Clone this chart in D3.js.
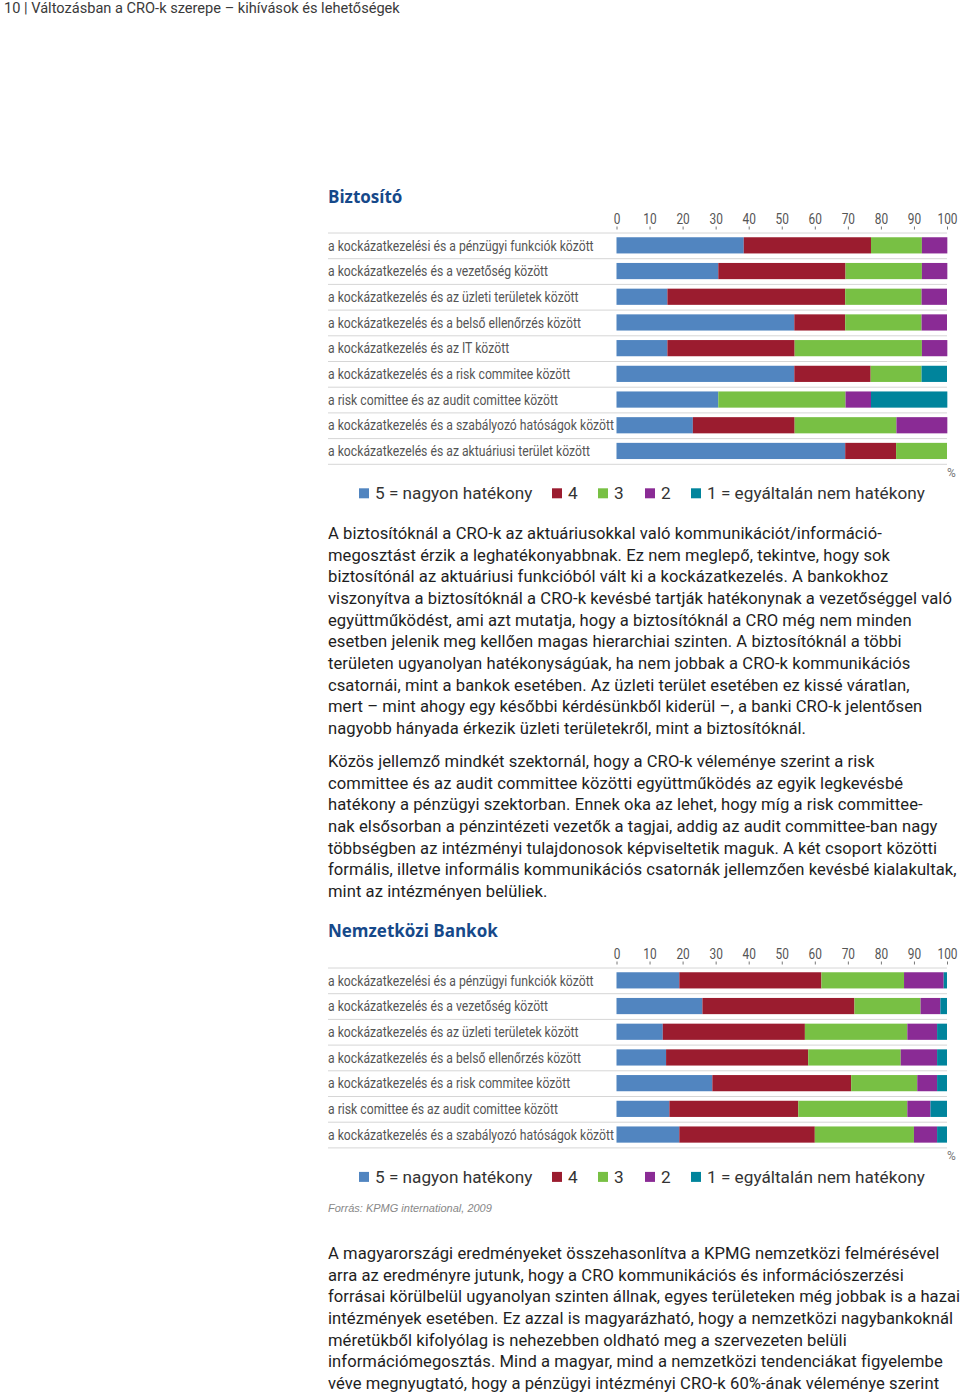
<!DOCTYPE html>
<html><head><meta charset="utf-8">
<script src="https://cdn.jsdelivr.net/npm/d3@7"></script>
<style>
body{margin:0;background:#fff;}
svg{display:block;}
</style></head>
<body>
<svg id="page" width="960" height="1395"></svg>
<script>
// ---------- DATA ----------
const seriesNames = ["5 = nagyon hatékony", "4", "3", "2", "1 = egyáltalán nem hatékony"];
const seriesColors = ["#5185c0", "#9b1c2f", "#78c044", "#8a2b95", "#00849c"];
const axisTicks = [0, 10, 20, 30, 40, 50, 60, 70, 80, 90, 100];

const insCategories = [
  "a kockázatkezelési és a pénzügyi funkciók között",
  "a kockázatkezelés és a vezetőség között",
  "a kockázatkezelés és az üzleti területek között",
  "a kockázatkezelés és a belső ellenőrzés között",
  "a kockázatkezelés és az IT között",
  "a kockázatkezelés és a risk commitee között",
  "a risk comittee és az audit comittee között",
  "a kockázatkezelés és a szabályozó hatóságok között",
  "a kockázatkezelés és az aktuáriusi terület között"
];
const ins5 = [38.5, 30.8, 15.4, 53.8, 15.4, 53.8, 30.8, 23.1, 69.2];
const ins4 = [38.5, 38.5, 53.8, 15.4, 38.5, 23.1, 0, 30.8, 15.4];
const ins3 = [15.4, 23.1, 23.1, 23.1, 38.5, 15.4, 38.5, 30.8, 15.4];
const ins2 = [7.7, 7.7, 7.7, 7.7, 7.7, 0, 7.7, 15.4, 0];
const ins1 = [0, 0, 0, 0, 0, 7.7, 23.1, 0, 0];

const bankCategories = [
  "a kockázatkezelési és a pénzügyi funkciók között",
  "a kockázatkezelés és a vezetőség között",
  "a kockázatkezelés és az üzleti területek között",
  "a kockázatkezelés és a belső ellenőrzés között",
  "a kockázatkezelés és a risk commitee között",
  "a risk comittee és az audit comittee között",
  "a kockázatkezelés és a szabályozó hatóságok között"
];
const bank5 = [19, 26, 14, 15, 29, 16, 19];
const bank4 = [43, 46, 43, 43, 42, 39, 41];
const bank3 = [25, 20, 31, 28, 20, 33, 30];
const bank2 = [12, 6, 9, 11, 6, 7, 7];
const bank1 = [1, 2, 3, 3, 3, 5, 3];

const headerText = "10 | Változásban a CRO-k szerepe – kihívások és lehetőségek";
const para1 = [
  "A biztosítóknál a CRO-k az aktuáriusokkal való kommunikációt/információ-",
  "megosztást érzik a leghatékonyabbnak. Ez nem meglepő, tekintve, hogy sok",
  "biztosítónál az aktuáriusi funkcióból vált ki a kockázatkezelés. A bankokhoz",
  "viszonyítva a biztosítóknál a CRO-k kevésbé tartják hatékonynak a vezetőséggel való",
  "együttműködést, ami azt mutatja, hogy a biztosítóknál a CRO még nem minden",
  "esetben jelenik meg kellően magas hierarchiai szinten. A biztosítóknál a többi",
  "területen ugyanolyan hatékonyságúak, ha nem jobbak a CRO-k kommunikációs",
  "csatornái, mint a bankok esetében. Az üzleti terület esetében ez kissé váratlan,",
  "mert – mint ahogy egy későbbi kérdésünkből kiderül –, a banki CRO-k jelentősen",
  "nagyobb hányada érkezik üzleti területekről, mint a biztosítóknál."
];
const para2 = [
  "Közös jellemző mindkét szektornál, hogy a CRO-k véleménye szerint a risk",
  "committee és az audit committee közötti együttműködés az egyik legkevésbé",
  "hatékony a pénzügyi szektorban. Ennek oka az lehet, hogy míg a risk committee-",
  "nak elsősorban a pénzintézeti vezetők a tagjai, addig az audit committee-ban nagy",
  "többségben az intézményi tulajdonosok képviseltetik maguk. A két csoport közötti",
  "formális, illetve informális kommunikációs csatornák jellemzően kevésbé kialakultak,",
  "mint az intézményen belüliek."
];
const para3 = [
  "A magyarországi eredményeket összehasonlítva a KPMG nemzetközi felmérésével",
  "arra az eredményre jutunk, hogy a CRO kommunikációs és információszerzési",
  "forrásai körülbelül ugyanolyan szinten állnak, egyes területeken még jobbak is a hazai",
  "intézmények esetében. Ez azzal is magyarázható, hogy a nemzetközi nagybankoknál",
  "méretükből kifolyólag is nehezebben oldható meg a szervezeten belüli",
  "információmegosztás. Mind a magyar, mind a nemzetközi tendenciákat figyelembe",
  "véve megnyugtató, hogy a pénzügyi intézményi CRO-k 60%-ának véleménye szerint"
];
const sourceText = "Forrás: KPMG international, 2009";

// ---------- DRAW ----------
const svg = d3.select("#page");
const labelFont = "Roboto, 'DejaVu Sans', sans-serif";
const bodyFont = "Roboto, 'Liberation Sans', sans-serif";

svg.append("text").attr("x", 4).attr("y", 13)
  .attr("font-family", bodyFont).attr("font-size", 14.6).attr("fill", "#3a3a3a")
  .text(headerText);

// horizontally condense a selection so that a reference text gets a target width
function condense(sel, refNode, targetW, x0) {
  const w = refNode.getComputedTextLength();
  const k = targetW / w;
  sel.attr("transform", `translate(${x0},0) scale(${k},1) translate(${-x0},0)`);
}

function paragraph(lines, x, y0, lh) {
  const g = svg.append("g").attr("font-family", bodyFont).attr("font-size", 16.6)
    .attr("fill", "#1e1e1e").attr("letter-spacing", 0.06);
  g.selectAll("text").data(lines).join("text")
    .attr("x", x).attr("y", (d, i) => y0 + i * lh).text(d => d);
  return g;
}

function chart(opts) {
  const {title, titleY, cats, vals, top, rowH} = opts;
  const x = d3.scaleLinear().domain([0, 100]).range([616.5, 947]);
  const y = d3.scaleBand().domain(cats).range([top, top + rowH * cats.length]).paddingInner(0.37).paddingOuter(0.185);
  const g = svg.append("g");

  g.append("text").attr("x", 328).attr("y", titleY)
    .attr("font-family", "'Open Sans', Roboto, sans-serif").attr("font-weight", 700)
    .attr("font-size", 17).attr("fill", "#16498a").text(title);

  // axis
  const axis = d3.axisTop(x).tickValues(axisTicks).tickSize(3).tickPadding(3).tickFormat(d3.format("d"));
  const ag = g.append("g").attr("transform", `translate(0,${top - 3})`).call(axis);
  ag.select(".domain").remove();
  ag.selectAll(".tick line").attr("stroke", "#777");
  ag.selectAll(".tick text").attr("font-family", labelFont).attr("font-size", 14.5).attr("fill", "#555")
    .attr("transform", "scale(0.82,1)");

  // separators
  const seps = d3.range(cats.length + 1);
  g.selectAll("line.sep").data(seps).join("line").attr("class", "sep")
    .attr("x1", 328).attr("x2", 947)
    .attr("y1", i => top + i * rowH + 0.5).attr("y2", i => top + i * rowH + 0.5)
    .attr("stroke", "#d6d6d6").attr("stroke-width", 1);

  // labels
  const lg0 = g.append("g");
  const labs = lg0.selectAll("text.lab").data(cats).join("text").attr("class", "lab")
    .attr("x", 328).attr("y", d => y(d) + y.bandwidth() / 2).attr("dy", "0.36em")
    .attr("font-family", labelFont).attr("font-size", 14.5).attr("fill", "#555")
    .text(d => d);
  condense(lg0, labs.nodes()[0], 266, 328);

  // stacked bars
  const rows = cats.map((c, i) => {
    const o = {cat: c};
    seriesNames.forEach((s, k) => o[s] = vals[k][i]);
    return o;
  });
  const stack = d3.stack().keys(seriesNames)(rows);
  g.selectAll("g.ser").data(stack).join("g").attr("class", "ser")
    .attr("fill", (d, k) => seriesColors[k])
    .selectAll("rect").data(d => d).join("rect")
    .attr("x", d => x(d[0])).attr("width", d => Math.max(0, x(d[1]) - x(d[0])))
    .attr("y", d => y(d.data.cat)).attr("height", y.bandwidth());

  // % sign
  const bottom = top + rowH * cats.length;
  g.append("text").attr("x", 947).attr("y", bottom + 13)
    .attr("font-family", labelFont).attr("font-size", 12).attr("fill", "#777").text("%");

  // legend
  const legY = bottom + 29.5;
  const legX = [359, 552, 598, 645, 691];
  const lg = g.append("g").attr("font-family", bodyFont).attr("font-size", 17.2).attr("fill", "#333");
  seriesNames.forEach((s, k) => {
    lg.append("rect").attr("x", legX[k]).attr("y", legY - 5).attr("width", 10).attr("height", 10).attr("fill", seriesColors[k]);
    lg.append("text").attr("x", legX[k] + 16).attr("y", legY).attr("dy", "0.36em").text(s);
  });
}

chart({title: "Biztosító", titleY: 203, cats: insCategories, vals: [ins5, ins4, ins3, ins2, ins1], top: 232.5, rowH: 25.7});
paragraph(para1, 328, 539, 21.65);
paragraph(para2, 328, 767, 21.65);
chart({title: "Nemzetközi Bankok", titleY: 937, cats: bankCategories, vals: [bank5, bank4, bank3, bank2, bank1], top: 967.5, rowH: 25.7});

svg.append("text").attr("x", 328).attr("y", 1212)
  .attr("font-family", "'Liberation Sans', Arial, sans-serif").attr("font-style", "italic")
  .attr("font-size", 11).attr("fill", "#888").text(sourceText);

paragraph(para3, 328, 1259, 21.65);
</script>
</body></html>
